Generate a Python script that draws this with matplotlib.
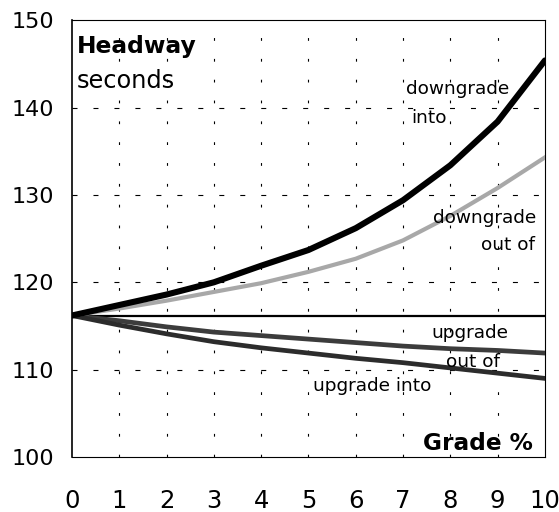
import numpy as np
import matplotlib
matplotlib.use('Agg')
import matplotlib.pyplot as plt

plt.rcParams['font.family'] = ['DejaVu Sans']
plt.rcParams['lines.scale_dashes'] = False

grade = [0, 1, 2, 3, 4, 5, 6, 7, 8, 9, 10]
downgrade_into = [116.2, 117.4, 118.6, 120.0, 121.9, 123.7, 126.2, 129.4, 133.4, 138.4, 145.4]
downgrade_out_of = [116.2, 117.0, 117.9, 118.9, 119.9, 121.2, 122.7, 124.8, 127.6, 130.8, 134.3]
level = [116.2] * 11
upgrade_out_of = [116.2, 115.6, 114.9, 114.3, 113.9, 113.5, 113.1, 112.7, 112.4, 112.2, 111.9]
upgrade_into = [116.2, 115.1, 114.1, 113.2, 112.5, 111.9, 111.3, 110.8, 110.2, 109.6, 109.0]

y_ticks = [100, 110, 120, 130, 140, 150]

fig = plt.figure(figsize=(5.59, 5.12), dpi=100)
ax = fig.add_axes([0.1288, 0.1074, 0.846, 0.853])

ax.plot(grade, level, color='black', lw=1.6, zorder=3)
ax.plot(grade, upgrade_out_of, color='#3c3c3c', lw=3.4, zorder=3, solid_joinstyle='round')
ax.plot(grade, upgrade_into, color='#2c2c2c', lw=3.4, zorder=3, solid_joinstyle='round')
ax.plot(grade, downgrade_out_of, color='#a8a8a8', lw=3.0, zorder=3, solid_joinstyle='round')
ax.plot(grade, downgrade_into, color='black', lw=4.4, zorder=4,
        solid_capstyle='round', solid_joinstyle='round')

ax.set_xlim(0, 10)
ax.set_ylim(100, 150)
ax.set_xticks(grade)
ax.set_yticks(y_ticks)
ax.tick_params(length=0)
ax.tick_params(axis='x', pad=23, labelsize=17.5)
ax.tick_params(axis='y', pad=13, labelsize=16)

for y in y_ticks[1:-1]:
    ax.axhline(y, color='black', lw=0.8, linestyle=(0, (3.6, 11.5)), zorder=1)
for x in grade[1:-1]:
    ax.axvline(x, color='black', lw=0.8, linestyle=(0, (2.0, 13.0)), zorder=1)

for s in ['top', 'right', 'bottom']:
    ax.spines[s].set_linewidth(0.8)
ax.spines['left'].set_linewidth(1.2)

ax.text(0.1, 146.2, 'Headway', fontsize=16.8, fontweight='bold', va='baseline', ha='left')
ax.text(0.1, 142.3, 'seconds', fontsize=17.3, va='baseline', ha='left')
ax.text(9.75, 100.8, 'Grade %', fontsize=16.7, fontweight='bold', va='baseline', ha='right')

ax.text(7.07, 141.6, 'downgrade', fontsize=13.3, va='baseline', ha='left', zorder=5)
ax.text(7.18, 138.2, 'into', fontsize=13.3, va='baseline', ha='left', zorder=5)
ax.text(9.81, 126.8, 'downgrade', fontsize=13.3, va='baseline', ha='right', zorder=5)
ax.text(9.8, 123.7, 'out of', fontsize=13.3, va='baseline', ha='right', zorder=5)
ax.text(7.6, 113.6, 'upgrade', fontsize=13.3, va='baseline', ha='left', zorder=5)
ax.text(7.91, 110.3, 'out of', fontsize=13.3, va='baseline', ha='left', zorder=5)
ax.text(5.1, 107.6, 'upgrade into', fontsize=13.3, va='baseline', ha='left', zorder=5)

fig.savefig('out.png', dpi=100)
